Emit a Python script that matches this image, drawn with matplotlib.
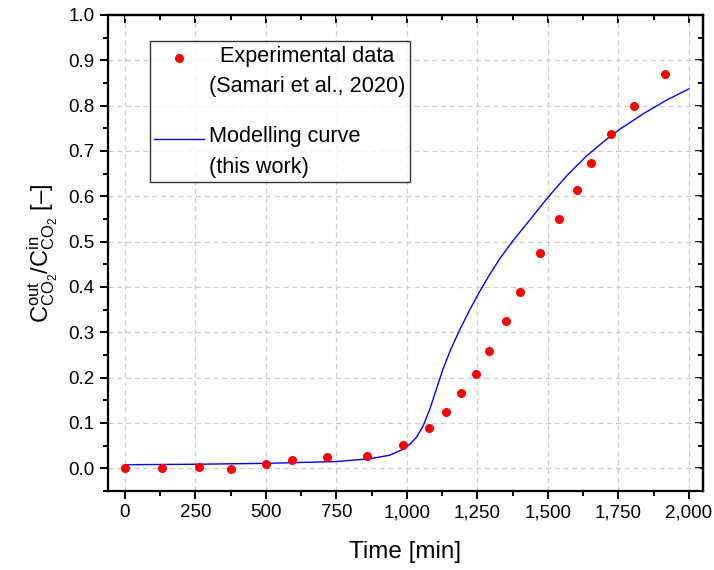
import numpy as np
import matplotlib.pyplot as plt
from matplotlib.ticker import MultipleLocator, StrMethodFormatter
from matplotlib.legend_handler import HandlerLine2D

plt.rcParams['font.family'] = ['Liberation Sans', 'DejaVu Sans']
plt.rcParams['mathtext.fontset'] = 'custom'
plt.rcParams['mathtext.rm'] = 'Liberation Sans'
plt.rcParams['mathtext.it'] = 'Liberation Sans:italic'

# experimental data (Samari et al., 2020)
t_exp = [0, 130, 264, 377, 499, 591, 718, 860, 987, 1078, 1140, 1191, 1245,
         1291, 1351, 1401, 1472, 1539, 1603, 1652, 1723, 1805, 1915]
c_exp = [0.0, 0.0, 0.004, -0.002, 0.009, 0.019, 0.026, 0.027, 0.052, 0.090,
         0.124, 0.167, 0.207, 0.259, 0.326, 0.388, 0.476, 0.549, 0.613, 0.673,
         0.737, 0.800, 0.870]

# modelling curve (this work)
t_mod = [0, 250, 500, 750, 868, 939, 986, 1010, 1033, 1057, 1081, 1104, 1128,
         1155, 1187, 1223, 1258, 1294, 1329, 1376, 1436, 1495, 1566, 1637,
         1708, 1755, 1838, 1920, 2000]
c_mod = [0.008, 0.009, 0.011, 0.015, 0.021, 0.029, 0.042, 0.053, 0.068, 0.093,
         0.130, 0.174, 0.219, 0.262, 0.305, 0.350, 0.390, 0.428, 0.462, 0.502,
         0.548, 0.594, 0.645, 0.689, 0.726, 0.748, 0.782, 0.812, 0.837]


class TopHandler(HandlerLine2D):
    # put the legend symbol next to the first line of a two-line label
    def create_artists(self, legend, orig_handle, xdescent, ydescent,
                       width, height, fontsize, trans):
        return super().create_artists(legend, orig_handle, xdescent,
                                      ydescent - 1.25 * fontsize, width,
                                      height, fontsize, trans)


fig = plt.figure(figsize=(7.14, 5.70), dpi=100)
ax = fig.add_axes([0.1513, 0.1386, 0.8333, 0.8351])

ax.plot(t_exp, c_exp, 'o', color='red', markersize=6.5, markeredgewidth=0,
        label='Experimental data\n(Samari et al., 2020)', zorder=3)
ax.plot(t_mod, c_mod, '-', color='blue', lw=1.0,
        label='Modelling curve\n(this work)', zorder=2)

ax.set_xlim(-60, 2050)
ax.set_ylim(-0.05, 1.0)
ax.xaxis.set_major_locator(MultipleLocator(250))
ax.xaxis.set_minor_locator(MultipleLocator(125))
ax.yaxis.set_major_locator(MultipleLocator(0.1))
ax.yaxis.set_minor_locator(MultipleLocator(0.05))
ax.xaxis.set_major_formatter(StrMethodFormatter('{x:,.0f}'))
ax.yaxis.set_major_formatter(StrMethodFormatter('{x:.1f}'))

ax.grid(True, which='major', ls=(0, (4, 3)), color='#cccccc', lw=0.9)
ax.tick_params(which='both', direction='out', width=1.4, labelsize=13.5,
               top=False, right=False)
ax.tick_params(which='major', length=6)
ax.tick_params(which='minor', length=3.5)
for s in ax.spines.values():
    s.set_linewidth(1.6)

top = ax.secondary_xaxis('top')
top.xaxis.set_major_locator(MultipleLocator(250))
top.xaxis.set_minor_locator(MultipleLocator(125))
top.tick_params(which='both', direction='in', width=1.4, labeltop=False)
top.tick_params(which='major', length=6)
top.tick_params(which='minor', length=3.5)
top.spines['top'].set_linewidth(1.6)
right = ax.secondary_yaxis('right')
right.yaxis.set_major_locator(MultipleLocator(0.1))
right.yaxis.set_minor_locator(MultipleLocator(0.05))
right.tick_params(which='both', direction='in', width=1.4, labelright=False)
right.tick_params(which='major', length=6)
right.tick_params(which='minor', length=3.5)
right.spines['right'].set_linewidth(1.6)

ax.set_xlabel('Time [min]', fontsize=17.5, labelpad=14)
ax.set_ylabel(r'$\mathregular{C^{out}_{CO_2}/C^{in}_{CO_2}}$ [–]', fontsize=17, labelpad=6)

leg = ax.legend(loc='upper left', bbox_to_anchor=(0.07, 0.945), fontsize=15.6,
                frameon=True, fancybox=False, edgecolor='black',
                borderaxespad=0, handlelength=2.3, handletextpad=0.25,
                labelspacing=1.35, borderpad=0.2,
                handler_map={plt.Line2D: TopHandler()})
leg.get_frame().set_linewidth(1.0)
for txt in leg.get_texts():
    txt.set_linespacing(1.6)
leg.get_texts()[0].set_multialignment('center')

fig.savefig('out.png', dpi=100)
